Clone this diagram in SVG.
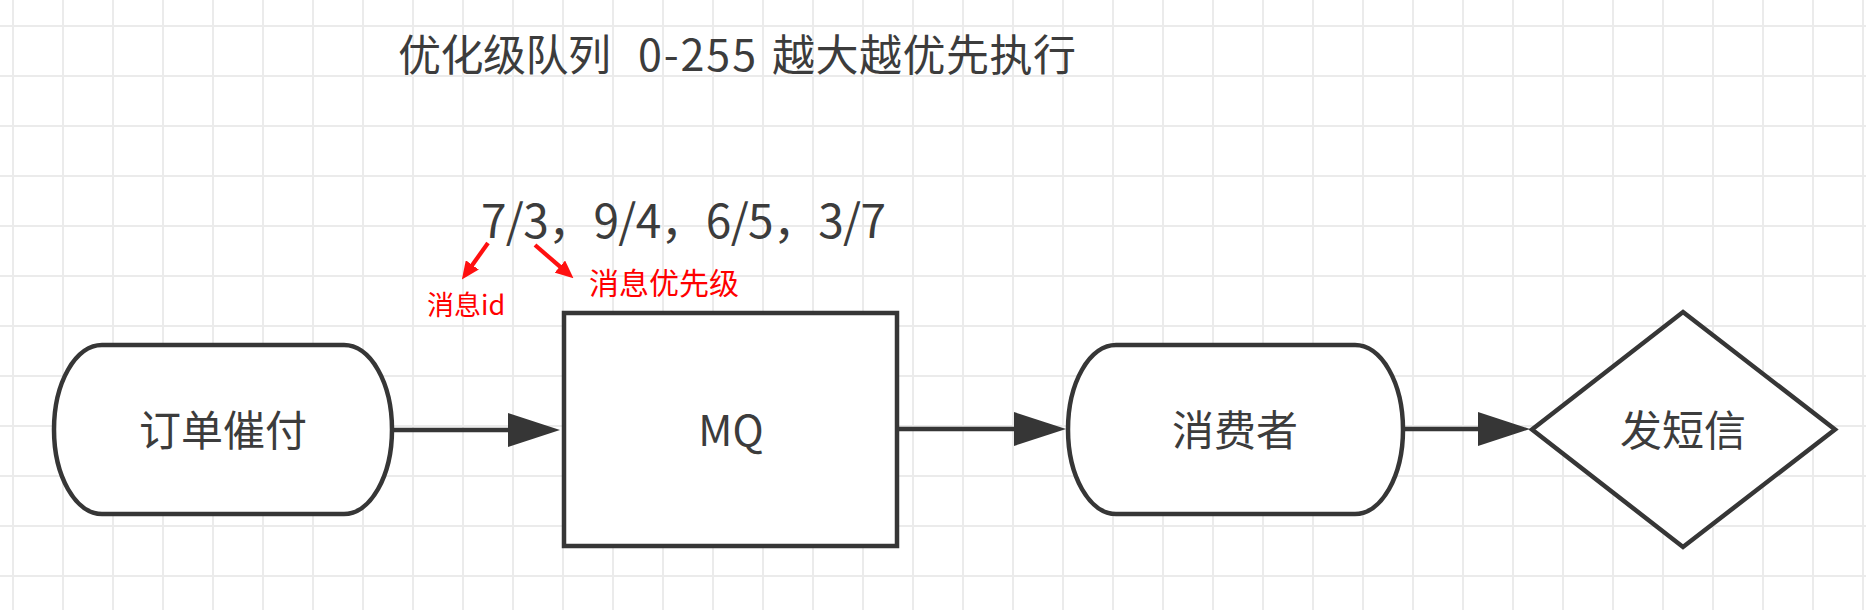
<svg xmlns="http://www.w3.org/2000/svg" width="1866" height="610" viewBox="0 0 1866 610">
<style>
.grid line{stroke:#ebebeb;stroke-width:2}
.node{fill:#ffffff;stroke:#363636;stroke-width:4.5}
.lbl{font-family:"Noto Sans CJK SC","Noto Sans",sans-serif;fill:#3c3c3c;font-size:42px;text-anchor:middle}
.conn{stroke:#363636;stroke-width:4.5;fill:none}
.red{stroke:#ff1010;stroke-width:4.2;fill:none}
.rtxt{font-family:"Noto Sans CJK SC","Noto Sans",sans-serif;fill:#ff0000}
</style>
<defs>
<marker id="ah" markerUnits="userSpaceOnUse" markerWidth="52" markerHeight="34" refX="8" refY="17" orient="auto" viewBox="0 0 52 34">
<path d="M0,0 L52,17 L0,34 z" fill="#363636"/>
</marker>
<marker id="rh" markerUnits="userSpaceOnUse" markerWidth="18" markerHeight="16" refX="4" refY="8" orient="auto" viewBox="0 0 18 16">
<path d="M0,0 L18,8 L0,16 z" fill="#ff1010"/>
</marker>
</defs>
<rect width="1866" height="610" fill="#ffffff"/>
<g class="grid">
<line x1="13" y1="0" x2="13" y2="610"/><line x1="63" y1="0" x2="63" y2="610"/><line x1="113" y1="0" x2="113" y2="610"/><line x1="163" y1="0" x2="163" y2="610"/><line x1="213" y1="0" x2="213" y2="610"/><line x1="263" y1="0" x2="263" y2="610"/><line x1="313" y1="0" x2="313" y2="610"/><line x1="363" y1="0" x2="363" y2="610"/><line x1="413" y1="0" x2="413" y2="610"/><line x1="463" y1="0" x2="463" y2="610"/><line x1="513" y1="0" x2="513" y2="610"/><line x1="563" y1="0" x2="563" y2="610"/><line x1="613" y1="0" x2="613" y2="610"/><line x1="663" y1="0" x2="663" y2="610"/><line x1="713" y1="0" x2="713" y2="610"/><line x1="763" y1="0" x2="763" y2="610"/><line x1="813" y1="0" x2="813" y2="610"/><line x1="863" y1="0" x2="863" y2="610"/><line x1="913" y1="0" x2="913" y2="610"/><line x1="963" y1="0" x2="963" y2="610"/><line x1="1013" y1="0" x2="1013" y2="610"/><line x1="1063" y1="0" x2="1063" y2="610"/><line x1="1113" y1="0" x2="1113" y2="610"/><line x1="1163" y1="0" x2="1163" y2="610"/><line x1="1213" y1="0" x2="1213" y2="610"/><line x1="1263" y1="0" x2="1263" y2="610"/><line x1="1313" y1="0" x2="1313" y2="610"/><line x1="1363" y1="0" x2="1363" y2="610"/><line x1="1413" y1="0" x2="1413" y2="610"/><line x1="1463" y1="0" x2="1463" y2="610"/><line x1="1513" y1="0" x2="1513" y2="610"/><line x1="1563" y1="0" x2="1563" y2="610"/><line x1="1613" y1="0" x2="1613" y2="610"/><line x1="1663" y1="0" x2="1663" y2="610"/><line x1="1713" y1="0" x2="1713" y2="610"/><line x1="1763" y1="0" x2="1763" y2="610"/><line x1="1813" y1="0" x2="1813" y2="610"/><line x1="1863" y1="0" x2="1863" y2="610"/>
<line x1="0" y1="26" x2="1866" y2="26"/><line x1="0" y1="76" x2="1866" y2="76"/><line x1="0" y1="126" x2="1866" y2="126"/><line x1="0" y1="176" x2="1866" y2="176"/><line x1="0" y1="226" x2="1866" y2="226"/><line x1="0" y1="276" x2="1866" y2="276"/><line x1="0" y1="326" x2="1866" y2="326"/><line x1="0" y1="376" x2="1866" y2="376"/><line x1="0" y1="426" x2="1866" y2="426"/><line x1="0" y1="476" x2="1866" y2="476"/><line x1="0" y1="526" x2="1866" y2="526"/><line x1="0" y1="576" x2="1866" y2="576"/>
</g>
<g id="title">
<text y="71" font-family="'Noto Sans CJK SC','Noto Sans',sans-serif" font-size="43" fill="#3c3c3c"><tspan x="398" textLength="213" lengthAdjust="spacing">优化级队列</tspan><tspan x="638" textLength="118" lengthAdjust="spacing">0-255</tspan><tspan x="772" textLength="304" lengthAdjust="spacing">越大越优先执行</tspan></text>
</g>
<g id="queue-items">
<text x="481" y="238" font-family="'Noto Sans CJK SC','Noto Sans',sans-serif" font-size="46" fill="#3c3c3c" textLength="405" lengthAdjust="spacing">7/3，9/4，6/5，3/7</text>
</g>
<g id="note-id">
<text class="rtxt" x="427" y="315" font-size="27">消息id</text>
</g>
<g id="note-priority">
<text class="rtxt" x="589" y="294" font-size="30">消息优先级</text>
</g>
<g id="connectors">
<line class="conn" x1="392" y1="430" x2="516" y2="430" marker-end="url(#ah)"/>
<line class="conn" x1="899" y1="429" x2="1022" y2="429" marker-end="url(#ah)"/>
<line class="conn" x1="1405" y1="429" x2="1486" y2="429" marker-end="url(#ah)"/>
<line class="red" x1="488" y1="243" x2="470" y2="268.2" marker-end="url(#rh)"/>
<line class="red" x1="535" y1="245" x2="562.9" y2="269.2" marker-end="url(#rh)"/>
</g>
<g id="node-order">
<rect class="node" x="54" y="345" width="338" height="169" rx="48" ry="84.5"/>
<text class="lbl" x="223" y="446">订单催付</text>
</g>
<g id="node-mq">
<rect class="node" x="564" y="313" width="333" height="233" stroke-width="5"/>
<text class="lbl" x="731" y="446">MQ</text>
</g>
<g id="node-consumer">
<rect class="node" x="1068" y="345" width="335" height="169" rx="48" ry="84.5"/>
<text class="lbl" x="1235" y="446">消费者</text>
</g>
<g id="node-sms">
<polygon class="node" points="1683,312 1835,429.5 1683,547 1532,429.5"/>
<text class="lbl" x="1683" y="446">发短信</text>
</g>
</svg>
